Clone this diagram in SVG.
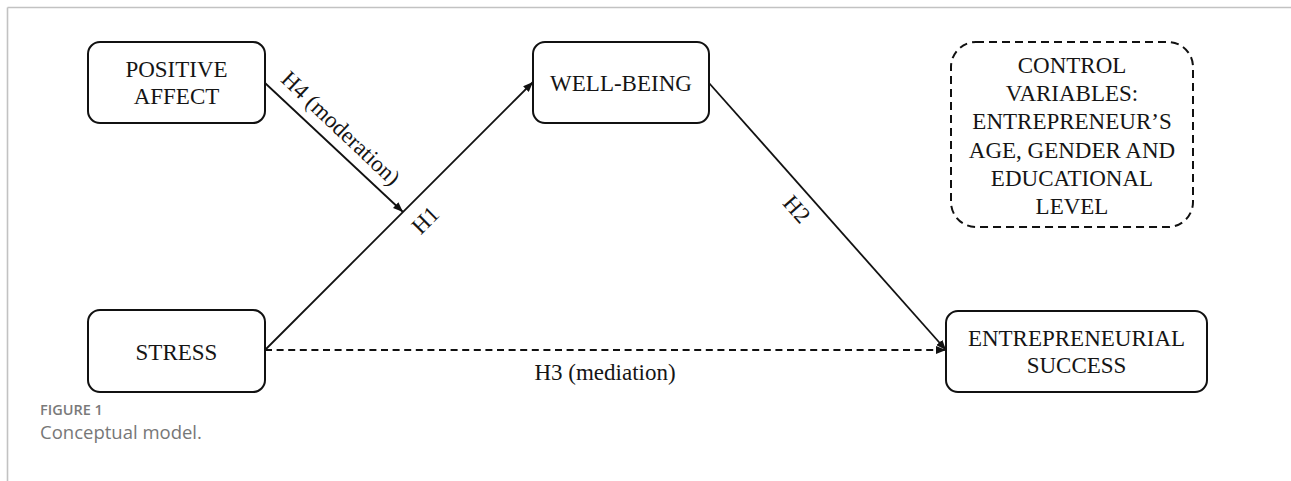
<svg xmlns="http://www.w3.org/2000/svg" width="1291" height="481" viewBox="0 0 1291 481">
  <style>
    .box { fill: #ffffff; stroke: #111111; stroke-width: 2; }
    .dbox { fill: #ffffff; stroke: #111111; stroke-width: 2; stroke-dasharray: 8 5; }
    .lbl { font-family: "Liberation Serif", "Times New Roman", serif; font-size: 23px; fill: #151515; text-anchor: middle; }
    .edge { fill: none; stroke: #111111; stroke-width: 1.8; }
    .dash { stroke-dasharray: 7 4.6; }
    .frame { stroke: #c2c2c2; stroke-width: 1.6; fill: none; }
    .cap1 { font-family: "Open Sans", "Liberation Sans", sans-serif; font-size: 14.5px; font-weight: 600; fill: #7a7a7a; }
    .cap2 { font-family: "Open Sans", "Liberation Sans", sans-serif; font-size: 18.5px; font-weight: 400; fill: #777777; }
  </style>
  <defs>
    <marker id="arrow" viewBox="0 0 10 8" markerWidth="10" markerHeight="8" refX="10" refY="4" orient="auto" markerUnits="userSpaceOnUse">
      <path d="M0,0 L10,4 L0,8 z" fill="#111111"/>
    </marker>
  </defs>
  <rect width="1291" height="481" fill="#ffffff"/>
  <g id="frame">
    <line class="frame" x1="7.5" y1="7.5" x2="1291" y2="7.5"/>
    <line class="frame" x1="7.5" y1="7.5" x2="7.5" y2="481"/>
  </g>

  <g id="connectors">
    <line class="edge" x1="265" y1="350" x2="533" y2="82" marker-end="url(#arrow)"/>
    <line class="edge" x1="265" y1="83" x2="403" y2="212" marker-end="url(#arrow)"/>
    <line class="edge" x1="709" y1="83" x2="946" y2="350" marker-end="url(#arrow)"/>
    <line class="edge dash" x1="265" y1="350" x2="946" y2="350" marker-end="url(#arrow)"/>
    <text class="lbl" transform="translate(341,128) rotate(43.5)" y="8">H4 (moderation)</text>
    <text class="lbl" transform="translate(425,220) rotate(-45)" y="8">H1</text>
    <text class="lbl" transform="translate(797,209) rotate(48.4)" y="8">H2</text>
    <text class="lbl" x="605" y="380">H3 (mediation)</text>
  </g>

  <g id="positive-affect">
    <rect class="box" x="88" y="42" width="177" height="81" rx="12"/>
    <text class="lbl" x="176.5" y="77">POSITIVE</text>
    <text class="lbl" x="176.5" y="104">AFFECT</text>
  </g>
  <g id="stress">
    <rect class="box" x="88" y="310" width="177" height="82" rx="12"/>
    <text class="lbl" x="176.5" y="360">STRESS</text>
  </g>
  <g id="well-being">
    <rect class="box" x="533" y="42" width="176" height="81" rx="12"/>
    <text class="lbl" x="621" y="91">WELL-BEING</text>
  </g>
  <g id="entrepreneurial-success">
    <rect class="box" x="946" y="311" width="261" height="81" rx="12"/>
    <text class="lbl" x="1076.5" y="346">ENTREPRENEURIAL</text>
    <text class="lbl" x="1076.5" y="373">SUCCESS</text>
  </g>
  <g id="control-variables">
    <rect class="dbox" x="951" y="42" width="242" height="185" rx="25"/>
    <text class="lbl" x="1072" y="73">CONTROL</text>
    <text class="lbl" x="1072" y="101">VARIABLES:</text>
    <text class="lbl" x="1072" y="129">ENTREPRENEUR’S</text>
    <text class="lbl" x="1072" y="158">AGE, GENDER AND</text>
    <text class="lbl" x="1072" y="186">EDUCATIONAL</text>
    <text class="lbl" x="1072" y="214">LEVEL</text>
  </g>

  <g id="caption">
    <text class="cap1" x="40" y="415">FIGURE 1</text>
    <text class="cap2" x="40" y="439">Conceptual model.</text>
  </g>
</svg>
